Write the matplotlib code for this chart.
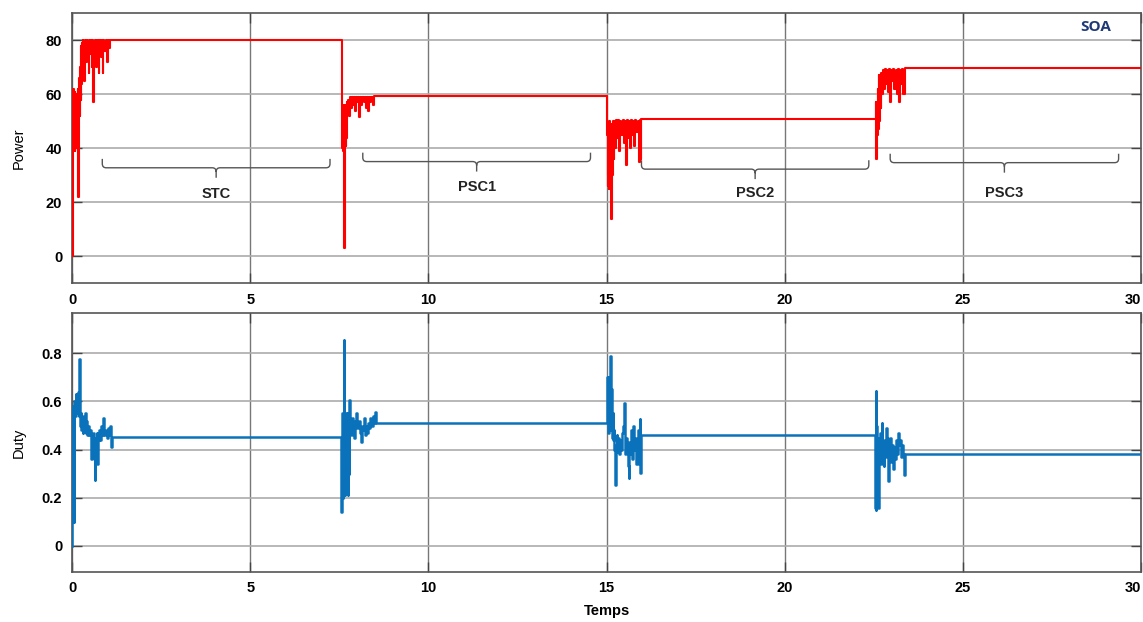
import matplotlib
matplotlib.use("Agg")
import matplotlib.pyplot as plt
from matplotlib.path import Path
from matplotlib.patches import PathPatch

# ---------------- data ----------------
power_stc = [(0.00, 0), (0.02, 60), (0.03, 40), (0.04, 62), (0.05, 42), (0.06, 58), (0.07, 39),
             (0.08, 61), (0.09, 44), (0.10, 57), (0.11, 40), (0.12, 60), (0.13, 46), (0.14, 55),
             (0.15, 41), (0.16, 62), (0.17, 22), (0.19, 60), (0.20, 45), (0.21, 66), (0.22, 52),
             (0.23, 70), (0.24, 58), (0.25, 78), (0.26, 64), (0.28, 79), (0.29, 66), (0.30, 80),
             (0.32, 70), (0.34, 79), (0.35, 65), (0.37, 80), (0.39, 72), (0.41, 80), (0.43, 74),
             (0.45, 79), (0.47, 68), (0.49, 80), (0.51, 75), (0.53, 80), (0.55, 70), (0.57, 80),
             (0.59, 57), (0.61, 79), (0.63, 73), (0.65, 80), (0.67, 70), (0.69, 80), (0.71, 76),
             (0.73, 80), (0.75, 68), (0.77, 80), (0.80, 74), (0.83, 80), (0.86, 68), (0.88, 80),
             (0.91, 76), (0.94, 80), (0.97, 72), (1.00, 80), (1.04, 77), (1.08, 80.2), (7.58, 80.2)]
power_psc1 = [(7.58, 55), (7.59, 40), (7.60, 54), (7.61, 39), (7.62, 56), (7.63, 42), (7.64, 3),
              (7.65, 55), (7.66, 38), (7.67, 53), (7.68, 41), (7.69, 56), (7.70, 44), (7.71, 57),
              (7.72, 46), (7.73, 55), (7.75, 58), (7.77, 52), (7.79, 59), (7.82, 55), (7.85, 59),
              (7.88, 56), (7.91, 59), (7.94, 54), (7.97, 59), (8.00, 57), (8.03, 59), (8.06, 51.5),
              (8.09, 59), (8.12, 56), (8.15, 59), (8.18, 57), (8.21, 59), (8.24, 55), (8.27, 59),
              (8.30, 54), (8.33, 59), (8.36, 57), (8.40, 59), (8.44, 56), (8.48, 59.4), (15.02, 59.4)]
power_psc2 = [(15.02, 45), (15.03, 26), (15.04, 49), (15.05, 30), (15.06, 47), (15.07, 25),
              (15.08, 50), (15.09, 33), (15.10, 48), (15.11, 28), (15.12, 49), (15.13, 14),
              (15.15, 46), (15.16, 30), (15.18, 50), (15.20, 36), (15.22, 50), (15.24, 40),
              (15.27, 50.5), (15.30, 44), (15.33, 50.5), (15.36, 39), (15.39, 50), (15.42, 45),
              (15.45, 50.5), (15.48, 42), (15.51, 50), (15.54, 34), (15.57, 50.5), (15.60, 44),
              (15.63, 50), (15.66, 40), (15.69, 50.5), (15.72, 45), (15.75, 50), (15.78, 41),
              (15.81, 50.5), (15.84, 46), (15.87, 50), (15.90, 35), (15.93, 50.5), (15.96, 36),
              (15.98, 50.7), (22.55, 50.7)]
power_psc3 = [(22.55, 57), (22.57, 36), (22.59, 55), (22.60, 45), (22.62, 62), (22.63, 47),
              (22.65, 67), (22.66, 50), (22.68, 66), (22.69, 55), (22.71, 68), (22.73, 60),
              (22.75, 69), (22.78, 62), (22.81, 69.5), (22.84, 64), (22.87, 69), (22.90, 61),
              (22.93, 69.5), (22.96, 57), (22.99, 69), (23.02, 65), (23.05, 69.5), (23.08, 62),
              (23.11, 69), (23.14, 60), (23.17, 69.5), (23.20, 57), (23.23, 69), (23.26, 64),
              (23.29, 69.5), (23.33, 60), (23.37, 69.6), (30.0, 69.6)]

duty_stc = [(0.00, 0.0), (0.01, 0.58), (0.03, 0.20), (0.04, 0.55), (0.05, 0.10), (0.06, 0.60),
            (0.08, 0.54), (0.10, 0.63), (0.12, 0.55), (0.14, 0.62), (0.16, 0.56), (0.18, 0.64),
            (0.20, 0.54), (0.21, 0.775), (0.22, 0.50), (0.24, 0.55), (0.26, 0.48), (0.28, 0.54),
            (0.30, 0.47), (0.32, 0.53), (0.34, 0.49), (0.36, 0.55), (0.38, 0.47), (0.40, 0.52),
            (0.42, 0.46), (0.45, 0.50), (0.48, 0.46), (0.51, 0.48), (0.54, 0.36), (0.56, 0.44),
            (0.58, 0.38), (0.60, 0.47), (0.62, 0.36), (0.64, 0.275), (0.65, 0.45), (0.67, 0.38),
            (0.69, 0.47), (0.71, 0.34), (0.73, 0.46), (0.75, 0.44), (0.77, 0.48), (0.79, 0.44),
            (0.82, 0.50), (0.85, 0.46), (0.88, 0.53), (0.91, 0.46), (0.94, 0.48), (0.97, 0.45),
            (1.00, 0.49), (1.04, 0.46), (1.08, 0.50), (1.10, 0.41), (1.12, 0.454), (7.56, 0.454)]
duty_psc1 = [(7.56, 0.142), (7.57, 0.50), (7.58, 0.22), (7.59, 0.55), (7.60, 0.20), (7.61, 0.54),
             (7.62, 0.25), (7.63, 0.855), (7.64, 0.30), (7.65, 0.55), (7.66, 0.21), (7.67, 0.53),
             (7.68, 0.24), (7.69, 0.52), (7.70, 0.22), (7.71, 0.55), (7.72, 0.26), (7.73, 0.50),
             (7.74, 0.21), (7.75, 0.54), (7.76, 0.30), (7.77, 0.606), (7.79, 0.48), (7.81, 0.52),
             (7.83, 0.46), (7.86, 0.53), (7.89, 0.49), (7.92, 0.45), (7.95, 0.52), (7.98, 0.55),
             (8.01, 0.49), (8.04, 0.52), (8.07, 0.47), (8.10, 0.433), (8.13, 0.50), (8.16, 0.48),
             (8.19, 0.53), (8.22, 0.46), (8.25, 0.50), (8.28, 0.47), (8.31, 0.51), (8.34, 0.49),
             (8.37, 0.53), (8.40, 0.50), (8.44, 0.54), (8.48, 0.51), (8.50, 0.555), (8.53, 0.51),
             (15.02, 0.51)]
duty_psc2 = [(15.02, 0.70), (15.03, 0.50), (15.04, 0.68), (15.05, 0.47), (15.06, 0.70), (15.07, 0.52),
             (15.08, 0.67), (15.09, 0.48), (15.10, 0.66), (15.11, 0.789), (15.12, 0.50), (15.13, 0.65),
             (15.14, 0.47), (15.15, 0.62), (15.16, 0.45), (15.17, 0.55), (15.18, 0.44), (15.20, 0.48),
             (15.22, 0.40), (15.24, 0.253), (15.26, 0.42), (15.28, 0.46), (15.30, 0.39), (15.32, 0.45),
             (15.35, 0.38), (15.38, 0.44), (15.41, 0.40), (15.44, 0.47), (15.47, 0.50), (15.49, 0.595),
             (15.51, 0.42), (15.53, 0.38), (15.55, 0.45), (15.58, 0.40), (15.60, 0.33), (15.62, 0.281),
             (15.64, 0.43), (15.67, 0.38), (15.70, 0.48), (15.72, 0.36), (15.75, 0.50), (15.78, 0.40),
             (15.81, 0.45), (15.84, 0.34), (15.87, 0.48), (15.90, 0.38), (15.93, 0.526), (15.95, 0.304),
             (15.97, 0.42), (15.98, 0.461), (22.54, 0.461)]
duty_psc3 = [(22.54, 0.157), (22.55, 0.645), (22.56, 0.149), (22.57, 0.50), (22.58, 0.35), (22.59, 0.48),
             (22.60, 0.30), (22.61, 0.45), (22.62, 0.157), (22.64, 0.42), (22.66, 0.35), (22.68, 0.47),
             (22.70, 0.34), (22.72, 0.51), (22.74, 0.38), (22.76, 0.43), (22.78, 0.33), (22.80, 0.44),
             (22.82, 0.37), (22.84, 0.49), (22.86, 0.40), (22.88, 0.45), (22.90, 0.27), (22.92, 0.43),
             (22.94, 0.39), (22.96, 0.45), (22.98, 0.35), (23.00, 0.42), (23.03, 0.32), (23.06, 0.41),
             (23.09, 0.36), (23.12, 0.44), (23.15, 0.38), (23.18, 0.47), (23.21, 0.42), (23.24, 0.44),
             (23.27, 0.37), (23.30, 0.42), (23.33, 0.38), (23.35, 0.295), (23.37, 0.381), (30.0, 0.381)]

x_ticks = [0, 5, 10, 15, 20, 25, 30]
power_ticks = [0, 20, 40, 60, 80]
duty_ticks = [0, 0.2, 0.4, 0.6, 0.8]
duty_tick_labels = ["0", "0.2", "0.4", "0.6", "0.8"]

phase_labels = ["STC", "PSC1", "PSC2", "PSC3"]
phase_start = [0.85, 8.16, 15.98, 22.96]
phase_end = [7.24, 14.55, 22.36, 29.37]

# ---------------- styling ----------------
plt.rcParams['font.family'] = ['Liberation Sans', 'DejaVu Sans']
brace_level = [32.8, 35.1, 32.3, 34.7]
label_level = [23.0, 25.8, 23.4, 23.6]

fig = plt.figure(figsize=(11.43, 6.22), dpi=100)
ax1 = fig.add_axes([0.063, 0.5445, 0.9353, 0.434])
ax2 = fig.add_axes([0.063, 0.0809, 0.9353, 0.4154])


def concat(*segs):
    t, v = [], []
    for s in segs:
        for a, b in s:
            t.append(a)
            v.append(b)
    return t, v


pt, pv = concat(power_stc, power_psc1, power_psc2, power_psc3)
dt, dv = concat(duty_stc, duty_psc1, duty_psc2, duty_psc3)

ax1.plot(pt, pv, color='#ff0000', lw=1.5, drawstyle='steps-post', zorder=3)
ax2.plot(dt, dv, color='#0a72ba', lw=1.8, drawstyle='steps-post', zorder=3)

for ax in (ax1, ax2):
    ax.set_xlim(0, 30)
    ax.set_xticks(x_ticks)
    ax.set_xticklabels([str(x) for x in x_ticks])
    ax.tick_params(direction='in', length=7, top=True, right=True, color='#444444',
                   labelsize=10.5, pad=7, width=1)
    for lab in ax.get_xticklabels() + ax.get_yticklabels():
        lab.set_fontweight('bold')
    ax.get_xticklabels()[-1].set_horizontalalignment('right')
    for sp in ax.spines.values():
        sp.set_color('#555555')
        sp.set_linewidth(1.2)
    ax.grid(axis='y', color='#ababab', lw=1.2, zorder=0)
    ax.grid(axis='x', color='#777777', lw=1.0, zorder=0)
    ax.set_axisbelow(True)

ax1.set_ylim(-10, 90)
ax1.set_yticks(power_ticks)
ax1.set_yticklabels([str(v) for v in power_ticks], fontweight='bold')
ax2.set_ylim(-0.107, 0.966)
ax2.set_yticks(duty_ticks)
ax2.set_yticklabels(duty_tick_labels, fontweight='bold')

ax1.set_ylabel('Power', fontsize=10.5)
ax2.set_ylabel('Duty', fontsize=10.5)
ax2.set_xlabel('Temps', fontsize=10.5, fontweight='bold', labelpad=6)
ax1.yaxis.set_label_coords(-0.043, 0.5)
ax2.yaxis.set_label_coords(-0.043, 0.5)

ax1.text(0.972, 0.95, 'SOA', transform=ax1.transAxes, ha='right', va='center',
         fontsize=11, fontweight='bold', color='#1f3a78', family=['Open Sans', 'DejaVu Sans'])

# curly braces marking the phases
h, tip, rx, ry = 3.3, 3.7, 0.11, 1.5
for lab, x0, x1, y0, yl in zip(phase_labels, phase_start, phase_end, brace_level, label_level):
    xc = 0.5 * (x0 + x1)
    verts = [(x0, y0 + h), (x0, y0 + ry), (x0, y0), (x0 + rx, y0),
             (xc - rx, y0), (xc, y0), (xc, y0 - ry), (xc, y0 - tip),
             (xc, y0 - ry), (xc, y0), (xc + rx, y0),
             (x1 - rx, y0), (x1, y0), (x1, y0 + ry), (x1, y0 + h)]
    codes = [Path.MOVETO, Path.LINETO, Path.CURVE3, Path.CURVE3,
             Path.LINETO, Path.CURVE3, Path.CURVE3, Path.LINETO,
             Path.MOVETO, Path.CURVE3, Path.CURVE3,
             Path.LINETO, Path.CURVE3, Path.CURVE3, Path.LINETO]
    ax1.add_patch(PathPatch(Path(verts, codes), fill=False, edgecolor='#555555', lw=1.0, zorder=2))
    ax1.text(xc, yl, lab, ha='center', va='center', fontsize=10.5, fontweight='bold', color='#222222')

fig.savefig('out.png', dpi=100)
